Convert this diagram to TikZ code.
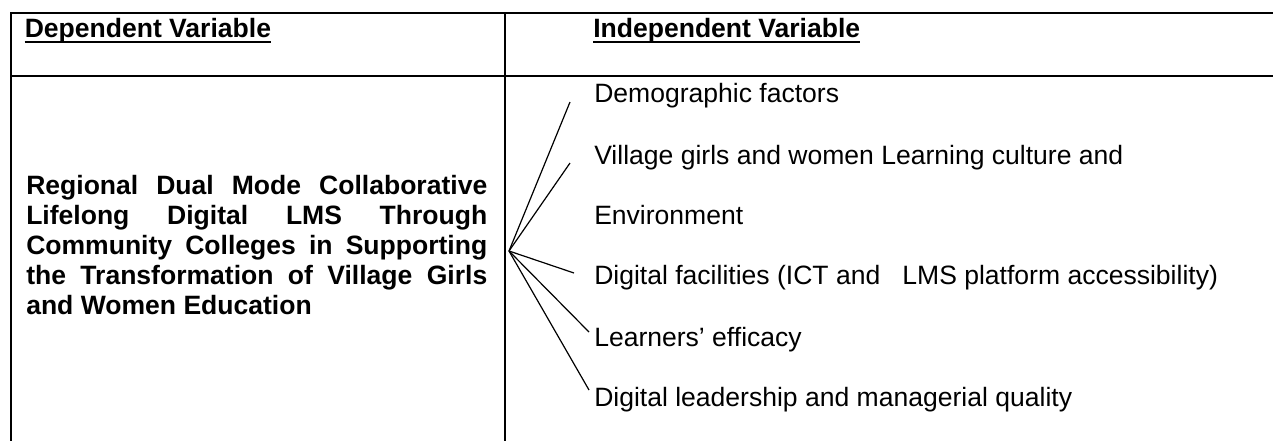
\documentclass[tikz,border=0pt]{standalone}
\usepackage{fontspec}
\setmainfont{Liberation Sans}
\usetikzlibrary{calc}

\begin{document}
\begin{tikzpicture}[x=0.75pt,y=-0.75pt,
    rule/.style={line width=1.5pt},
    fanline/.style={line width=0.9pt},
    factor/.style={anchor=base west,inner sep=0pt,font=\fontsize{19.9}{23}\selectfont},
    header/.style={factor,font=\fontsize{19.9}{23}\selectfont\bfseries}]
        \useasboundingbox (0,0) rectangle (1273,440);
        % Draw the table frame
        \draw[rule] (1280,13) -- (11,13) -- (11,445);
        \draw[rule] (11,76) -- (1280,76);
        \draw[rule] (505,13) -- (505,445);
        % Column headers, underlined
        \node[header] (dep) at (24.5,37) {Dependent Variable};
        \node[header] (indep) at (593,37) {Independent Variable};
        \foreach \h in {dep,indep}
            \draw[rule] ([yshift=-4.1pt]\h.base west) -- ([yshift=-4.1pt]\h.base east);
        % Dependent variable text
        \node[anchor=base west,inner sep=0pt,text width=345.75pt,align=justify,
              font=\fontsize{19.9}{22.5}\selectfont\bfseries] (lms) at (26,194)
            {Regional Dual Mode Collaborative\linebreak
             Lifelong Digital LMS Through\linebreak
             Community Colleges in Supporting\linebreak
             the Transformation of Village Girls\linebreak
             and Women Education\par};
        % Independent variables
        \node[factor] (demo) at (594,102) {Demographic factors};
        \node[factor] (culture) at (594,164) {Village girls and women Learning culture and};
        \node[factor] (env) at (594,224) {Environment};
        \node[factor] (facil) at (594,284) {Digital facilities (ICT and \ \ LMS platform accessibility)};
        \node[factor] (eff) at (594,346) {Learners' efficacy};
        \node[factor] (lead) at (594,406) {Digital leadership and managerial quality};
        % Fan of lines from the apex
        \coordinate (apex) at (509,251);
        \coordinate (e1) at (570,102);
        \coordinate (e2) at (570,163);
        \coordinate (e3) at (574,273);
        \coordinate (e4) at (589,332);
        \coordinate (e5) at (589,390);
        \foreach \e in {e1,e2,e3,e4,e5} \draw[fanline] (apex) -- (\e);
    \end{tikzpicture}
\end{document}
